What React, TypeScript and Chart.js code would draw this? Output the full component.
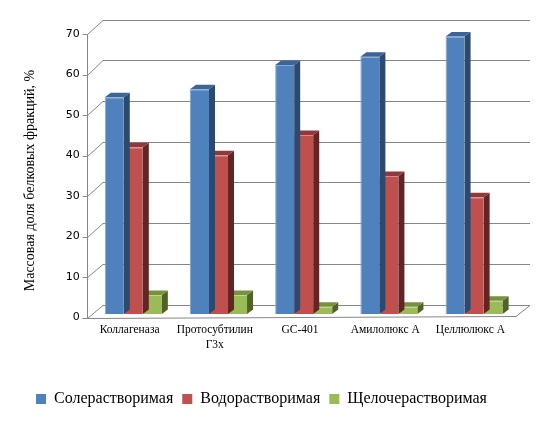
import { useEffect, useRef } from 'react';
import { Chart, registerables } from 'chart.js';

Chart.register(...registerables);

const categories: (string | string[])[] = ['Коллагеназа', ['Протосубтилин', 'Г3х'], 'GC-401', 'Амилолюкс А', 'Целлюлюкс А'];
const seriesNames = ['Солерастворимая', 'Водорастворимая', 'Щелочерастворимая'];
const saltSoluble = [53.5, 55.5, 61.5, 63.5, 68.5];
const waterSoluble = [41.2, 39.2, 44.2, 34.1, 28.8];
const alkaliSoluble = [4.7, 4.7, 1.8, 1.8, 3.3];
const yTickValues = [0, 10, 20, 30, 40, 50, 60, 70];
const yTitle = 'Массовая доля белковых фракций, %';

const frontColors = ['#4F81BD', '#C0504D', '#9BBB59'];
const edgeColors = ['#86A8D6', '#D98A88', '#BDD68F'];
const sideColors = ['#2B4A6F', '#632523', '#4F6228'];
const topColors = ['#3B6498', '#8F3A38', '#76923C'];

const Y_MIN = -4.07;
const Y_MAX = 70;
const BAR_DX = 6;
const BAR_DY = 4.5;

const line = (ctx: CanvasRenderingContext2D, x1: number, y1: number, x2: number, y2: number) => {
  ctx.beginPath();
  ctx.moveTo(x1, y1);
  ctx.lineTo(x2, y2);
  ctx.stroke();
};

const snap = (v: number) => Math.round(v) + 0.5;

const wall3d = {
  id: 'wall3d',
  beforeDatasetsDraw(chart: any) {
    const { ctx, chartArea, scales } = chart;
    const y = scales.y;
    const fx = snap(chartArea.left - 3.7);
    const bx0 = chartArea.left + 12.3;
    const bx1 = chartArea.right + 13.3;
    ctx.save();
    ctx.strokeStyle = '#868686';
    ctx.lineWidth = 1;
    yTickValues.forEach((v) => {
      const p = y.getPixelForValue(v);
      const fy = snap(p + 3.5);
      const by = snap(p - 9.5 - (1.5 * v) / Y_MAX);
      line(ctx, fx - 5, fy, fx, fy);
      line(ctx, fx, fy, bx0, by);
      line(ctx, bx0, by, bx1, by);
    });
    const f0 = snap(y.getPixelForValue(0) + 3.5);
    const fTop = snap(y.getPixelForValue(Y_MAX) + 3.5);
    line(ctx, fx, f0, fx, fTop);
    const fr = chartArea.right - 0.7;
    const b0 = snap(y.getPixelForValue(0) - 9.5);
    line(ctx, fx, f0, fr, f0 - 2);
    line(ctx, fr, f0 - 2, bx1, b0);
    ctx.restore();
  },
  afterDatasetDraw(chart: any, args: any) {
    const { ctx } = chart;
    const i = args.index;
    const meta = args.meta;
    ctx.save();
    meta.data.forEach((el: any) => {
      const { x, y, base, width } = el.getProps(['x', 'y', 'base', 'width'], true);
      const left = x - width / 2;
      const right = x + width / 2;
      ctx.fillStyle = sideColors[i];
      ctx.beginPath();
      ctx.moveTo(right, y);
      ctx.lineTo(right + BAR_DX, y - BAR_DY);
      ctx.lineTo(right + BAR_DX, base - BAR_DY);
      ctx.lineTo(right, base);
      ctx.closePath();
      ctx.fill();
      ctx.fillStyle = topColors[i];
      ctx.beginPath();
      ctx.moveTo(left, y);
      ctx.lineTo(left + BAR_DX, y - BAR_DY);
      ctx.lineTo(right + BAR_DX, y - BAR_DY);
      ctx.lineTo(right, y);
      ctx.closePath();
      ctx.fill();
    });
    ctx.restore();
  },
};

export default function App() {
  const ref = useRef<HTMLCanvasElement>(null);
  useEffect(() => {
    if (!ref.current) return;
    const series = [saltSoluble, waterSoluble, alkaliSoluble];
    const chart = new Chart(ref.current, {
      type: 'bar',
      data: {
        labels: categories as any,
        datasets: series.map((d, i) => ({
          label: seriesNames[i],
          data: d,
          backgroundColor: frontColors[i],
          borderColor: edgeColors[i],
          borderWidth: { left: 1, top: 1, right: 0, bottom: 0 },
          borderSkipped: false,
          barPercentage: 1,
          categoryPercentage: 0.67,
        })),
      },
      options: {
        responsive: false,
        animation: false,
        devicePixelRatio: 1,
        layout: { padding: { left: 6.3, right: 39.3, top: 30.5, bottom: 7 } },
        plugins: {
          tooltip: { enabled: false },
          legend: {
            position: 'bottom',
            labels: {
              boxWidth: 10,
              boxHeight: 10,
              padding: 9,
              color: '#000',
              font: { family: 'Liberation Serif', size: 16 },
              generateLabels: (c: any) =>
                Chart.defaults.plugins.legend.labels
                  .generateLabels(c)
                  .map((l: any) => ({ ...l, lineWidth: 0, strokeStyle: 'rgba(0,0,0,0)' })),
            },
          },
        },
        scales: {
          x: {
            grid: { display: false, drawTicks: false },
            border: { display: false },
            ticks: {
              mirror: true,
              padding: -7,
              labelOffset: -3.7,
              color: '#000',
              maxRotation: 0,
              autoSkip: false,
              font: { family: 'Liberation Serif', size: 11.5, lineHeight: 1.25 },
            },
            afterFit: (s: any) => {
              s.height = 51.5;
            },
          },
          y: {
            min: Y_MIN,
            max: Y_MAX,
            afterBuildTicks: (s: any) => {
              s.ticks = yTickValues.map((v) => ({ value: v }));
            },
            grid: { display: false, drawTicks: false },
            border: { display: false },
            ticks: {
              padding: 11,
              labelOffset: 3.5,
              color: '#000',
              font: { family: 'DejaVu Sans', size: 11 },
            },
            title: {
              display: true,
              text: yTitle,
              color: '#000',
              font: { family: 'Liberation Serif', size: 14 },
              padding: { top: 15.3, bottom: 0 },
            },
            afterFit: (s: any) => {
              s.width = 84.4;
            },
          },
        },
      },
      plugins: [wall3d],
    });
    return () => chart.destroy();
  }, []);
  return (
    <div style={{ position: 'absolute', left: 0, top: 0, width: 556, height: 424, background: '#fff' }}>
      <canvas ref={ref} width={556} height={424} />
    </div>
  );
}
